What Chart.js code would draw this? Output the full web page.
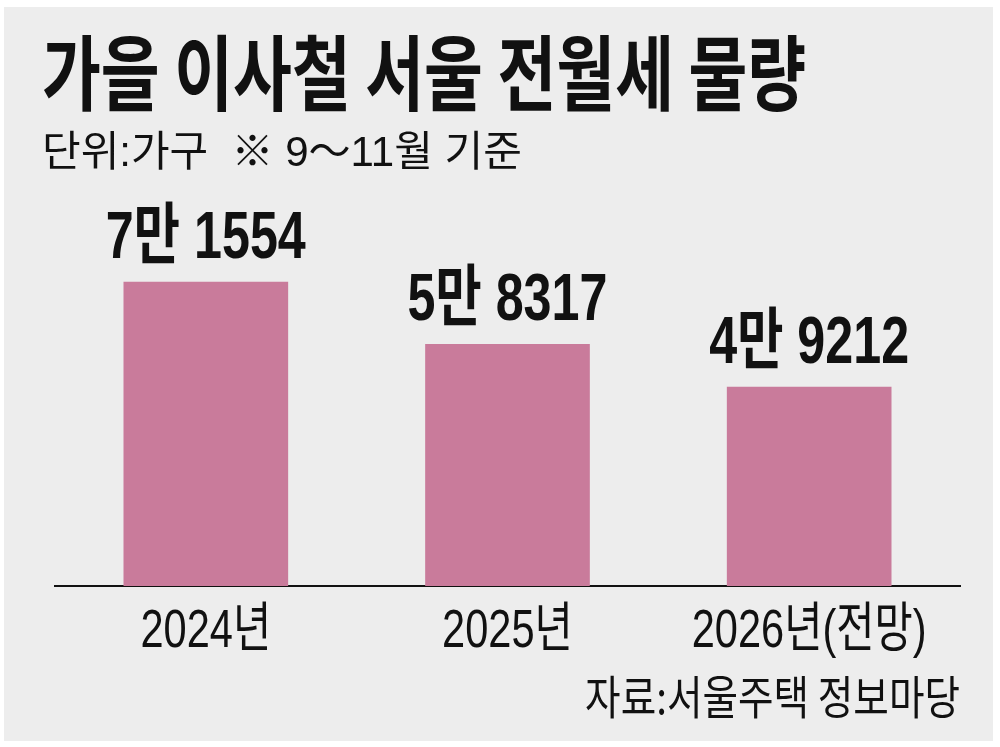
<!DOCTYPE html>
<html><head><meta charset="utf-8">
<script src="https://cdn.jsdelivr.net/npm/chart.js@4.4.1/dist/chart.umd.min.js"></script>
<style>html,body{margin:0;padding:0;background:#fff}#wrap{width:1000px;height:747px}</style>
</head><body><div id="wrap"><canvas id="c" width="1000" height="747"></canvas></div>
<script>
const categories = ['2024년', '2025년', '2026년(전망)'];
const values = [71554, 58317, 49212];
const valueLabels = ['7만 1554', '5만 8317', '4만 9212'];
const titleText = '가을 이사철 서울 전월세 물량';
const subtitleText = '단위:가구  ※ 9～11월 기준';
const sourceText = '자료:서울주택 정보마당';

const LAT = '"Liberation Sans", "Noto Sans CJK KR", sans-serif';
const CJK = '"Noto Sans CJK KR", "Liberation Sans", sans-serif';

function drawText(ctx, text, x, y, font, sx, align, baseline) {
  ctx.save();
  ctx.font = font;
  ctx.textAlign = align;
  ctx.textBaseline = baseline;
  ctx.fillStyle = '#111';
  ctx.translate(x, y);
  ctx.scale(sx, 1);
  ctx.fillText(text, 0, 0);
  ctx.restore();
}

const deco = {
  id: 'deco',
  beforeDraw(chart) {
    const ctx = chart.ctx;
    ctx.save();
    ctx.fillStyle = '#ffffff';
    ctx.fillRect(0, 0, chart.width, chart.height);
    ctx.fillStyle = '#ededed';
    ctx.fillRect(4, 7, 989, 734);
    ctx.restore();
  },
  afterDraw(chart) {
    const ctx = chart.ctx;
    drawText(ctx, titleText, 42, 73, 'bold 82px ' + CJK, 0.78, 'left', 'middle');
    drawText(ctx, subtitleText, 42, 154, '400 42px ' + LAT, 1.0, 'left', 'middle');
    const meta = chart.getDatasetMeta(0);
    const xs = chart.scales.x;
    meta.data.forEach((bar, i) => {
      drawText(ctx, valueLabels[i], bar.x, bar.y - 24, 'bold 67px ' + LAT, 0.75, 'center', 'alphabetic');
    });
    categories.forEach((c, i) => {
      drawText(ctx, c, xs.getPixelForValue(i), 647, '400 54px ' + LAT, 0.77, 'center', 'alphabetic');
    });
    drawText(ctx, sourceText, 960, 697, '400 46px ' + CJK, 0.84, 'right', 'middle');
  }
};

new Chart(document.getElementById('c'), {
  type: 'bar',
  data: {
    labels: categories,
    datasets: [{
      data: values,
      backgroundColor: '#c97b9b',
      borderWidth: 0,
      barThickness: 164
    }]
  },
  options: {
    responsive: false,
    animation: false,
    layout: { padding: { left: 55, right: 40, top: 200, bottom: 161 } },
    plugins: { legend: { display: false }, tooltip: { enabled: false }, title: { display: false } },
    scales: {
      x: {
        grid: { display: false, drawTicks: false },
        ticks: { display: false },
        border: { display: true, color: '#111', width: 2 }
      },
      y: {
        display: false,
        min: 6900,
        max: 89000
      }
    }
  },
  plugins: [deco]
});
</script>
</body></html>
